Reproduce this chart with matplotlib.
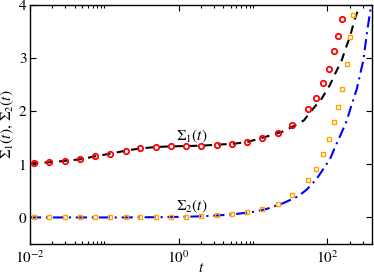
import matplotlib
matplotlib.use("Agg")
import matplotlib.pyplot as plt
import matplotlib.ticker as mticker
import numpy as np

# ---- data ----
t_pts = [0.0114, 0.0182, 0.0293, 0.0471, 0.0750, 0.1205, 0.194, 0.305, 0.492,
         0.791, 1.27, 2.02, 3.26, 5.28, 8.33, 13.4, 21.6, 33.9, 54.6, 70.0,
         86.9, 105.7, 123.5, 141.0, 156.7]
sigma1_pts = [1.026, 1.038, 1.064, 1.094, 1.150, 1.201, 1.257, 1.300, 1.326,
              1.338, 1.345, 1.351, 1.370, 1.385, 1.420, 1.488, 1.582, 1.739,
              2.036, 2.257, 2.527, 2.795, 3.128, 3.420, 3.734]

t2_pts = t_pts + [182.0, 204.6, 224.5]
sigma2_pts = [0.0, 0.0, 0.0, 0.0, 0.0, 0.0, 0.0, 0.006, 0.006, 0.006, 0.013,
              0.024, 0.038, 0.062, 0.094, 0.159, 0.257, 0.418, 0.698, 0.919,
              1.195, 1.473, 1.797, 2.088, 2.415, 2.889, 3.402, 3.805]

t_line1 = [0.01, 0.0114, 0.0182, 0.0293, 0.0471, 0.0750, 0.1205, 0.194, 0.305,
           0.492, 0.791, 1.27, 2.02, 3.26, 5.28, 8.33, 13.4, 25.6, 38.9, 48.7,
           58.7, 84.4, 109.0, 127.0, 156.7, 173.6, 202.6, 220.0, 237.0, 254.0,
           275.0]
sigma1_line = [1.02, 1.026, 1.038, 1.064, 1.094, 1.150, 1.201, 1.257, 1.300,
               1.326, 1.338, 1.345, 1.351, 1.370, 1.385, 1.420, 1.50, 1.62,
               1.75, 1.83, 1.98, 2.24, 2.50, 2.70, 2.96, 3.15, 3.41, 3.59,
               3.75, 3.87, 4.05]

t_line2 = [0.01, 0.0114, 0.0182, 0.0293, 0.0471, 0.0750, 0.1205, 0.194, 0.305,
           0.492, 0.791, 1.27, 2.02, 3.26, 5.28, 9.6, 15.3, 25.7, 40.8, 53.0,
           70.7, 109.0, 127.0, 148.6, 183.0, 203.0, 250.0, 306.0, 340.0,
           385.0, 400.0]
sigma2_line = [0.0, 0.0, 0.0, 0.0, 0.0, 0.0, 0.0, 0.0, 0.003, 0.005, 0.008,
               0.013, 0.022, 0.036, 0.058, 0.099, 0.16, 0.27, 0.40, 0.525,
               0.71, 1.10, 1.32, 1.53, 1.82, 2.03, 2.42, 2.96, 3.45, 3.96,
               4.12]

major_x = [1e-2, 1e0, 1e2]
minor_x = [k * 1e-2 for k in range(2, 11)] + [k * 1e0 for k in range(2, 11)] + \
          [k * 1e2 for k in range(2, 5)]
y_ticks = [0, 1, 2, 3, 4]

label1 = r"$\Sigma_1(t)$"
label2 = r"$\Sigma_2(t)$"
xlabel = r"$t$"
ylabel = r"$\Sigma_1(t),\,\Sigma_2(t)$"

# ---- style ----
plt.rcParams["font.family"] = ["STIXGeneral", "DejaVu Serif"]
plt.rcParams["mathtext.fontset"] = "stix"
plt.rcParams["lines.scale_dashes"] = False

W, H = 374, 276
fig = plt.figure(figsize=(W / 100, H / 100), dpi=100)
ax = fig.add_axes([30 / W, 32 / H, 342 / W, 239 / H])

ax.plot(t_line1, sigma1_line, color="black", lw=1.5,
        linestyle=(0, (6.0, 4.5)), zorder=2)
ax.plot(t_line2, sigma2_line, color="#0000ff", lw=1.5,
        linestyle=(0, (8.0, 3.5, 1.5, 3.5)), zorder=2)
ax.plot(t_pts, sigma1_pts, linestyle="none", marker="o", ms=3.9,
        mfc="none", mec="#ff0000", mew=1.3, zorder=3)
ax.plot(t2_pts, sigma2_pts, linestyle="none", marker="s", ms=3.2,
        mfc="none", mec="#ffa500", mew=1.0, zorder=3)

ax.set_xscale("log")
ax.set_xlim(1e-2, 400)
ax.set_ylim(-0.5, 4)

ax.xaxis.set_major_locator(mticker.FixedLocator(major_x))
ax.xaxis.set_minor_locator(mticker.FixedLocator(minor_x))
ax.xaxis.set_major_formatter(mticker.LogFormatterSciNotation())
ax.xaxis.set_minor_formatter(mticker.NullFormatter())
ax.yaxis.set_major_locator(mticker.FixedLocator(y_ticks))
ax.yaxis.set_minor_locator(mticker.NullLocator())

ax.tick_params(which="both", direction="in", top=True, right=True, width=0.8)
ax.tick_params(which="major", length=4.3, labelsize=11)
ax.tick_params(which="minor", length=2.2)
ax.tick_params(axis="x", pad=4)
ax.tick_params(axis="y", pad=2.5)
for s in ax.spines.values():
    s.set_linewidth(1.0)

ax.text(1.5, 1.53, label1, ha="center", va="center", fontsize=11)
ax.text(1.5, 0.21, label2, ha="center", va="center", fontsize=11)

ax.set_xlabel(xlabel, fontsize=11, labelpad=-3)
ax.set_ylabel(ylabel, fontsize=11, labelpad=2)

fig.savefig("out.png", dpi=100)
